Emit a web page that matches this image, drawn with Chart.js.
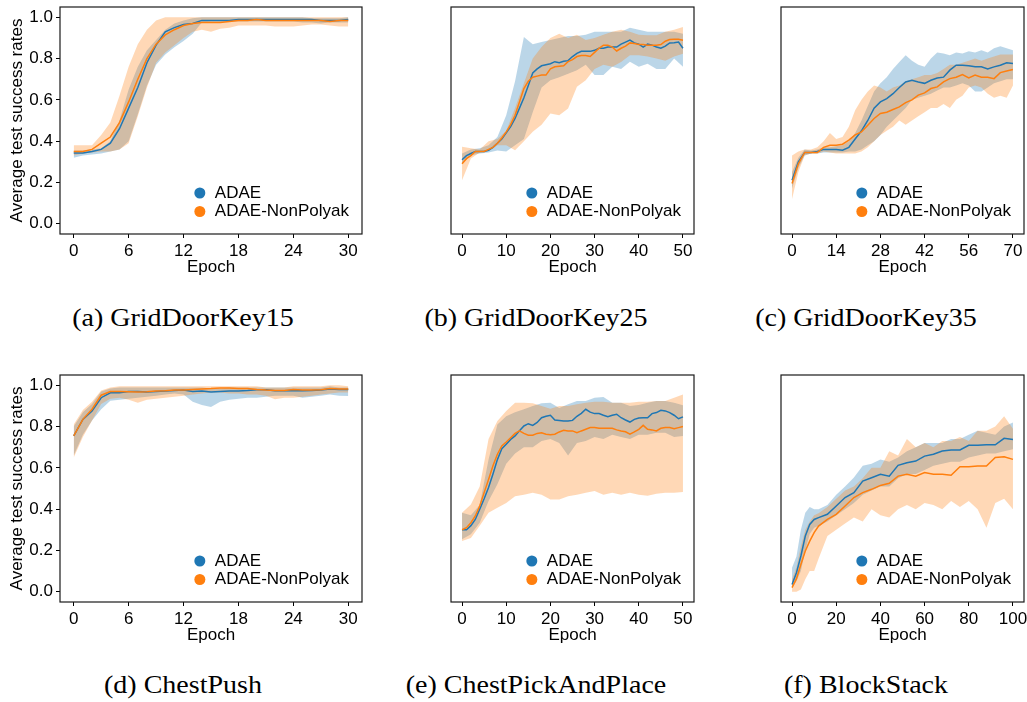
<!DOCTYPE html>
<html>
<head>
<meta charset="utf-8">
<script src="https://cdn.jsdelivr.net/npm/chart.js@4.4.1/dist/chart.umd.min.js"></script>
<style>
  html, body { margin: 0; padding: 0; background: #fff; }
  body { position: relative; width: 1027px; height: 702px; overflow: hidden; }
  canvas { position: absolute; }
  .caption {
    position: absolute;
    font-family: 'Liberation Serif', serif;
    font-size: 25px;
    line-height: 25px;
    color: #000;
    white-space: nowrap;
    transform: translateX(-50%) scaleX(1.12);
  }
</style>
</head>
<body>
<script>
// ---- axis ticks -------------------------------------------------------
const yTicks = [0, 0.2, 0.4, 0.6, 0.8, 1.0]
const ticks30 = [0, 6, 12, 18, 24, 30]
const ticks50 = [0, 10, 20, 30, 40, 50]
const ticks70 = [0, 14, 28, 42, 56, 70]
const ticks100 = [0, 20, 40, 60, 80, 100]

const legendNames = ['ADAE', 'ADAE-NonPolyak']

// ---- epochs -----------------------------------------------------------
const epochs30 = [0,1,2,3,4,5,6,7,8,9,10,11,12,13,14,15,16,17,18,19,20,21,22,23,24,25,26,27,28,29,30]
const epochs50 = [0,1,2,3,4,5,6,7,8,9,10,11,12,13,14,15,16,17,18,19,20,21,22,23,24,25,26,27,28,29,30,31,32,33,34,35,36,37,38,39,40,41,42,43,44,45,46,47,48,49,50]
const evens50 = [0,2,4,6,8,10,12,14,16,18,20,22,24,26,28,30,32,34,36,38,40,42,44,46,48,50]
const evens70 = [0,2,4,6,8,10,12,14,16,18,20,22,24,26,28,30,32,34,36,38,40,42,44,46,48,50,52,54,56,58,60,62,64,66,68,70]
const epochsF = [0,2,4,6,8,10,12,16,20,24,28,32,36,40,44,48,52,56,60,64,68,72,76,80,84,88,92,96,100]

// ---- (a) GridDoorKey15 ------------------------------------------------
const aAdae     = [0.343,0.343,0.35,0.36,0.39,0.46,0.56,0.66,0.78,0.865,0.93,0.95,0.965,0.97,0.985,0.985,0.985,0.985,0.99,0.99,0.99,0.99,0.99,0.99,0.99,0.99,0.99,0.985,0.985,0.985,0.99]
const aAdaeLow  = [0.32,0.33,0.335,0.34,0.35,0.36,0.40,0.53,0.67,0.77,0.82,0.855,0.885,0.92,0.975,0.98,0.98,0.98,0.98,0.98,0.98,0.98,0.98,0.98,0.98,0.975,0.975,0.97,0.975,0.975,0.975]
const aAdaeHigh = [0.355,0.355,0.36,0.365,0.40,0.50,0.65,0.76,0.84,0.89,0.94,0.97,0.985,0.995,1.0,1.0,1.0,1.0,1.0,1.0,1.0,1.0,1.0,1.0,1.0,1.0,0.995,0.995,0.995,0.995,1.0]
const aNon      = [0.35,0.35,0.36,0.39,0.42,0.49,0.59,0.70,0.80,0.87,0.915,0.94,0.96,0.97,0.975,0.975,0.975,0.98,0.985,0.985,0.99,0.985,0.985,0.985,0.985,0.985,0.985,0.985,0.98,0.985,0.985]
const aNonLow   = [0.33,0.34,0.345,0.35,0.35,0.36,0.39,0.52,0.66,0.78,0.83,0.865,0.90,0.93,0.94,0.93,0.945,0.95,0.96,0.96,0.96,0.96,0.955,0.955,0.955,0.96,0.965,0.965,0.96,0.955,0.955]
const aNonHigh  = [0.38,0.38,0.38,0.43,0.49,0.62,0.76,0.87,0.94,0.985,1.0,1.0,1.0,1.0,1.0,1.0,1.0,1.0,1.0,1.0,1.0,1.0,1.0,1.0,1.0,1.0,1.0,1.0,1.0,1.0,1.0]

// ---- (b) GridDoorKey25 ------------------------------------------------
const bAdae     = [0.31,0.33,0.34,0.35,0.35,0.35,0.355,0.37,0.39,0.41,0.44,0.47,0.51,0.56,0.61,0.67,0.73,0.75,0.765,0.77,0.775,0.785,0.78,0.787,0.79,0.81,0.825,0.835,0.835,0.835,0.84,0.85,0.85,0.856,0.856,0.856,0.87,0.88,0.89,0.876,0.87,0.856,0.87,0.865,0.856,0.85,0.86,0.876,0.877,0.88,0.85]
const bNon      = [0.29,0.315,0.33,0.35,0.35,0.35,0.36,0.37,0.39,0.415,0.445,0.48,0.525,0.59,0.655,0.69,0.71,0.715,0.72,0.72,0.75,0.76,0.763,0.765,0.785,0.795,0.81,0.815,0.815,0.81,0.83,0.85,0.865,0.865,0.856,0.837,0.85,0.86,0.876,0.873,0.868,0.868,0.865,0.865,0.865,0.868,0.884,0.892,0.894,0.894,0.889]
const bAdaeHigh = [0.34,0.36,0.365,0.38,0.42,0.526,0.69,0.905,0.87,0.88,0.89,0.90,0.91,0.91,0.916,0.93,0.93,0.93,0.93,0.95,0.94,0.93,0.93,0.93,0.93,0.92]
const bAdaeLow  = [0.29,0.33,0.34,0.345,0.355,0.35,0.38,0.41,0.54,0.66,0.695,0.71,0.727,0.744,0.77,0.72,0.72,0.76,0.75,0.785,0.76,0.775,0.75,0.75,0.8,0.76]
const bNonHigh  = [0.373,0.365,0.36,0.40,0.41,0.45,0.56,0.68,0.80,0.856,0.90,0.92,0.90,0.916,0.89,0.90,0.916,0.93,0.94,0.93,0.916,0.913,0.913,0.93,0.94,0.953]
const bNonLow   = [0.21,0.316,0.345,0.356,0.38,0.38,0.356,0.40,0.445,0.48,0.534,0.526,0.558,0.663,0.695,0.75,0.77,0.76,0.784,0.816,0.816,0.81,0.8,0.79,0.81,0.824]

// ---- (c) GridDoorKey35 ------------------------------------------------
const cAdae     = [0.21,0.30,0.345,0.345,0.35,0.36,0.36,0.36,0.356,0.37,0.41,0.45,0.50,0.56,0.59,0.606,0.63,0.66,0.687,0.695,0.687,0.68,0.695,0.706,0.71,0.744,0.768,0.768,0.765,0.76,0.76,0.75,0.76,0.768,0.78,0.776]
const cNon      = [0.195,0.29,0.345,0.345,0.345,0.37,0.38,0.38,0.385,0.405,0.43,0.445,0.477,0.51,0.534,0.54,0.553,0.566,0.587,0.6,0.623,0.634,0.655,0.663,0.687,0.703,0.71,0.723,0.706,0.72,0.71,0.71,0.703,0.732,0.74,0.747]
const cAdaeHigh = [0.25,0.32,0.36,0.355,0.36,0.37,0.37,0.375,0.38,0.40,0.44,0.50,0.57,0.64,0.68,0.71,0.75,0.784,0.816,0.79,0.77,0.76,0.80,0.83,0.825,0.816,0.83,0.825,0.835,0.83,0.84,0.83,0.85,0.86,0.85,0.84]
const cAdaeLow  = [0.17,0.27,0.33,0.34,0.34,0.345,0.345,0.345,0.345,0.35,0.35,0.36,0.38,0.40,0.43,0.47,0.50,0.53,0.56,0.60,0.61,0.62,0.63,0.645,0.66,0.66,0.67,0.68,0.67,0.64,0.64,0.66,0.68,0.69,0.70,0.70]
const cNonHigh  = [0.33,0.35,0.36,0.36,0.37,0.40,0.44,0.41,0.42,0.47,0.55,0.60,0.64,0.67,0.66,0.64,0.66,0.67,0.69,0.70,0.71,0.72,0.72,0.73,0.75,0.77,0.77,0.78,0.79,0.80,0.79,0.80,0.81,0.82,0.82,0.82]
const cNonLow   = [0.12,0.25,0.33,0.34,0.34,0.35,0.345,0.34,0.34,0.34,0.34,0.35,0.37,0.40,0.43,0.45,0.47,0.50,0.48,0.50,0.52,0.54,0.56,0.56,0.58,0.56,0.60,0.62,0.66,0.67,0.66,0.63,0.61,0.62,0.61,0.67]

// ---- (d) ChestPush ----------------------------------------------------
const dAdae     = [0.755,0.835,0.876,0.94,0.964,0.964,0.97,0.97,0.968,0.97,0.972,0.975,0.977,0.97,0.972,0.968,0.97,0.972,0.972,0.975,0.979,0.978,0.974,0.974,0.975,0.974,0.975,0.977,0.982,0.98,0.98]
const dNon      = [0.755,0.835,0.884,0.952,0.97,0.97,0.969,0.968,0.969,0.972,0.974,0.977,0.977,0.98,0.982,0.984,0.987,0.987,0.985,0.984,0.98,0.977,0.975,0.975,0.98,0.977,0.977,0.979,0.984,0.982,0.982]
const dAdaeHigh = [0.80,0.87,0.91,0.97,0.985,0.99,0.99,0.99,0.99,0.99,0.99,0.99,0.99,0.99,0.99,0.985,0.985,0.99,0.99,0.99,0.99,0.99,0.99,0.99,0.99,0.99,0.99,0.99,0.995,0.99,0.99]
const dAdaeLow  = [0.66,0.76,0.83,0.884,0.925,0.93,0.935,0.94,0.945,0.95,0.955,0.96,0.955,0.92,0.905,0.895,0.92,0.93,0.935,0.94,0.94,0.945,0.95,0.95,0.95,0.94,0.945,0.95,0.955,0.95,0.948]
const dNonHigh  = [0.81,0.88,0.92,0.975,0.99,0.995,0.995,0.995,0.995,0.995,0.995,0.995,0.995,0.995,0.995,0.995,0.995,0.995,0.995,0.995,0.995,0.99,0.99,0.99,0.995,0.995,0.995,0.995,1.0,1.0,0.995]
const dNonLow   = [0.65,0.75,0.83,0.91,0.935,0.94,0.93,0.916,0.93,0.935,0.94,0.945,0.95,0.955,0.96,0.965,0.965,0.96,0.96,0.955,0.955,0.95,0.932,0.94,0.94,0.945,0.95,0.955,0.96,0.965,0.965]

// ---- (e) ChestPickAndPlace --------------------------------------------
const eAdae     = [0.30,0.30,0.32,0.35,0.40,0.45,0.505,0.57,0.64,0.693,0.714,0.738,0.755,0.78,0.803,0.814,0.806,0.82,0.843,0.85,0.855,0.832,0.83,0.827,0.827,0.83,0.85,0.864,0.884,0.87,0.863,0.863,0.855,0.848,0.855,0.86,0.843,0.832,0.822,0.835,0.842,0.843,0.843,0.863,0.868,0.879,0.876,0.868,0.855,0.838,0.847]
const eNon      = [0.30,0.31,0.334,0.367,0.415,0.48,0.544,0.61,0.666,0.706,0.725,0.746,0.767,0.779,0.767,0.758,0.758,0.767,0.77,0.763,0.76,0.763,0.774,0.782,0.779,0.779,0.77,0.779,0.787,0.795,0.795,0.792,0.792,0.792,0.792,0.784,0.779,0.775,0.763,0.774,0.787,0.806,0.787,0.784,0.779,0.792,0.795,0.795,0.79,0.795,0.8]
const eAdaeHigh = [0.383,0.37,0.42,0.64,0.81,0.85,0.87,0.884,0.90,0.913,0.916,0.89,0.908,0.924,0.924,0.94,0.943,0.916,0.916,0.90,0.905,0.916,0.924,0.924,0.916,0.903]
const eAdaeLow  = [0.254,0.278,0.334,0.44,0.52,0.62,0.67,0.70,0.70,0.73,0.74,0.72,0.66,0.72,0.73,0.75,0.74,0.76,0.75,0.74,0.76,0.76,0.77,0.77,0.75,0.754]
const eNonHigh  = [0.383,0.423,0.51,0.74,0.827,0.876,0.916,0.916,0.913,0.90,0.887,0.90,0.90,0.908,0.916,0.92,0.92,0.916,0.916,0.916,0.92,0.92,0.924,0.924,0.94,0.956]
const eNonLow   = [0.245,0.26,0.32,0.383,0.407,0.43,0.463,0.47,0.48,0.47,0.447,0.447,0.463,0.47,0.48,0.488,0.47,0.48,0.47,0.48,0.47,0.465,0.475,0.48,0.48,0.483]

// ---- (f) BlockStack ---------------------------------------------------
const fAdae     = [0.035,0.092,0.173,0.27,0.326,0.35,0.359,0.375,0.415,0.456,0.48,0.536,0.552,0.569,0.56,0.612,0.625,0.633,0.657,0.666,0.682,0.687,0.687,0.709,0.709,0.712,0.712,0.743,0.738]
const fNon      = [0.02,0.063,0.132,0.197,0.245,0.286,0.318,0.35,0.375,0.415,0.456,0.48,0.496,0.515,0.525,0.56,0.569,0.56,0.577,0.569,0.569,0.564,0.606,0.606,0.609,0.609,0.65,0.654,0.641]
const fAdaeHigh = [0.116,0.17,0.30,0.383,0.41,0.40,0.40,0.42,0.47,0.51,0.553,0.61,0.62,0.64,0.63,0.65,0.68,0.70,0.72,0.72,0.72,0.74,0.74,0.76,0.78,0.77,0.76,0.80,0.82]
const fAdaeLow  = [0.02,0.05,0.10,0.20,0.28,0.31,0.32,0.34,0.37,0.40,0.43,0.47,0.49,0.51,0.51,0.55,0.57,0.57,0.59,0.61,0.62,0.63,0.63,0.65,0.66,0.67,0.67,0.68,0.69]
const fNonHigh  = [0.06,0.12,0.22,0.30,0.34,0.37,0.38,0.41,0.45,0.49,0.51,0.55,0.60,0.60,0.68,0.66,0.74,0.70,0.72,0.70,0.73,0.73,0.75,0.73,0.78,0.78,0.80,0.85,0.79]
const fNonLow   = [0.0,0.0,0.01,0.06,0.10,0.10,0.16,0.27,0.30,0.33,0.36,0.34,0.40,0.37,0.36,0.40,0.42,0.40,0.43,0.42,0.40,0.44,0.41,0.44,0.40,0.31,0.43,0.45,0.40]

// ---- styling ----------------------------------------------------------
const BLUE = '#1f77b4'
const ORANGE = '#ff7f0e'
const BLUE_BAND = 'rgba(31,119,180,0.3)'
const ORANGE_BAND = 'rgba(255,127,14,0.3)'
const Y_AXIS_W = 60
const X_AXIS_H = 44
const PAD = 3

Chart.defaults.font.family = "'Liberation Sans', Arial, sans-serif"
Chart.defaults.font.size = 17
Chart.defaults.color = '#000'

// panel layout: plot box [left, top, right, bottom] in page pixels
const panels = [
  { caption: '(a) GridDoorKey15', box: [60, 7, 362, 234], yAxis: true, xMin: -1.5, xMax: 31.5, xTicks: ticks30, capX: 183, capY: 305,
    adae: [epochs30, aAdae, epochs30, aAdaeLow, aAdaeHigh], non: [epochs30, aNon, epochs30, aNonLow, aNonHigh] },
  { caption: '(b) GridDoorKey25', box: [391, 7, 694, 234], yAxis: false, xMin: -2.5, xMax: 52.5, xTicks: ticks50, capX: 536, capY: 305,
    adae: [epochs50, bAdae, evens50, bAdaeLow, bAdaeHigh], non: [epochs50, bNon, evens50, bNonLow, bNonHigh] },
  { caption: '(c) GridDoorKey35', box: [721, 7, 1024, 234], yAxis: false, xMin: -3.5, xMax: 73.5, xTicks: ticks70, capX: 866, capY: 305,
    adae: [evens70, cAdae, evens70, cAdaeLow, cAdaeHigh], non: [evens70, cNon, evens70, cNonLow, cNonHigh] },
  { caption: '(d) ChestPush', box: [60, 375, 362, 602], yAxis: true, xMin: -1.5, xMax: 31.5, xTicks: ticks30, capX: 183, capY: 672,
    adae: [epochs30, dAdae, epochs30, dAdaeLow, dAdaeHigh], non: [epochs30, dNon, epochs30, dNonLow, dNonHigh] },
  { caption: '(e) ChestPickAndPlace', box: [391, 375, 694, 602], yAxis: false, xMin: -2.5, xMax: 52.5, xTicks: ticks50, capX: 536, capY: 672,
    adae: [epochs50, eAdae, evens50, eAdaeLow, eAdaeHigh], non: [epochs50, eNon, evens50, eNonLow, eNonHigh] },
  { caption: '(f) BlockStack', box: [721, 375, 1024, 602], yAxis: false, xMin: -5, xMax: 105, xTicks: ticks100, capX: 866, capY: 672,
    adae: [epochsF, fAdae, epochsF, fAdaeLow, fAdaeHigh], non: [epochsF, fNon, epochsF, fNonLow, fNonHigh] },
]

const pts = (xs, ys) => xs.map((x, i) => ({ x, y: ys[i] }))

// full black frame around the plot area
const frame = {
  id: 'frame',
  afterDraw(chart) {
    const { ctx, chartArea: { left, top, right, bottom } } = chart
    ctx.save()
    ctx.strokeStyle = '#1a1a1a'
    ctx.lineWidth = 1.2
    ctx.strokeRect(left, top, right - left, bottom - top)
    ctx.restore()
  }
}

// legend sitting in the lower right corner of the plot area
const insetLegend = {
  id: 'insetLegend',
  afterDraw(chart) {
    const { ctx, chartArea } = chart
    ctx.save()
    ctx.font = "17px 'Liberation Sans', Arial, sans-serif"
    const textW = Math.max(...legendNames.map(n => ctx.measureText(n).width))
    const textX = chartArea.right - 13 - textW
    const rows = [chartArea.bottom - 41, chartArea.bottom - 22.5]
    const colors = [BLUE, ORANGE]
    legendNames.forEach((name, i) => {
      ctx.fillStyle = colors[i]
      ctx.beginPath()
      ctx.arc(textX - 15, rows[i], 5.5, 0, Math.PI * 2)
      ctx.fill()
      ctx.fillStyle = '#000'
      ctx.textAlign = 'left'
      ctx.textBaseline = 'middle'
      ctx.fillText(name, textX, rows[i])
    })
    ctx.restore()
  }
}

function lineSet(data, color) {
  return { data, borderColor: color, borderWidth: 1.5, pointRadius: 0, fill: false, tension: 0 }
}
function bandSet(data, color, fill) {
  return { data, borderColor: 'rgba(0,0,0,0)', borderWidth: 0, pointRadius: 0, backgroundColor: color, fill, tension: 0 }
}

// keep the axes from reserving extra room for edge tick labels
function fixSize(prop, size) {
  return s => {
    s[prop] = size
    s.paddingTop = 0
    s.paddingBottom = 0
    s.paddingLeft = 0
    s.paddingRight = 0
  }
}

panels.forEach(p => {
  const [l, t, r, b] = p.box
  const leftW = p.yAxis ? Y_AXIS_W : PAD
  const canvas = document.createElement('canvas')
  canvas.width = leftW + (r - l) + PAD
  canvas.height = PAD + (b - t) + X_AXIS_H
  canvas.style.left = (l - leftW) + 'px'
  canvas.style.top = (t - PAD) + 'px'
  canvas.style.width = canvas.width + 'px'
  canvas.style.height = canvas.height + 'px'
  document.body.appendChild(canvas)

  const [ax, am, abx, alo, ahi] = p.adae
  const [nx, nm, nbx, nlo, nhi] = p.non

  new Chart(canvas, {
    type: 'line',
    data: {
      // index order sets drawing order: later entries are painted first
      datasets: [
        lineSet(pts(nx, nm), ORANGE),
        lineSet(pts(ax, am), BLUE),
        bandSet(pts(nbx, nhi), ORANGE_BAND, '+1'),
        bandSet(pts(nbx, nlo), ORANGE_BAND, false),
        bandSet(pts(abx, ahi), BLUE_BAND, '+1'),
        bandSet(pts(abx, alo), BLUE_BAND, false),
      ]
    },
    options: {
      responsive: false,
      animation: false,
      events: [],
      layout: { padding: { top: PAD, right: PAD, bottom: 0, left: p.yAxis ? 0 : PAD } },
      plugins: {
        legend: { display: false },
        tooltip: { enabled: false },
        filler: { drawTime: 'beforeDatasetsDraw' },
      },
      scales: {
        x: {
          type: 'linear',
          min: p.xMin,
          max: p.xMax,
          afterBuildTicks: s => { s.ticks = p.xTicks.map(v => ({ value: v })) },
          afterFit: fixSize('height', X_AXIS_H),
          ticks: { padding: 3, callback: v => String(v) },
          grid: { drawOnChartArea: false, drawTicks: true, tickLength: 4, tickColor: '#000', tickWidth: 1 },
          border: { display: false },
          title: { display: true, text: 'Epoch', padding: 0 },
        },
        y: {
          display: p.yAxis,
          min: -0.05,
          max: 1.05,
          afterBuildTicks: s => { s.ticks = yTicks.map(v => ({ value: v })) },
          afterFit: fixSize('width', Y_AXIS_W),
          ticks: { padding: 3, callback: v => v.toFixed(1) },
          grid: { drawOnChartArea: false, drawTicks: true, tickLength: 4, tickColor: '#000', tickWidth: 1 },
          border: { display: false },
          title: { display: true, text: 'Average test success rates', padding: { top: 7, bottom: 0 } },
        }
      }
    },
    plugins: [frame, insetLegend]
  })

  const cap = document.createElement('div')
  cap.className = 'caption'
  cap.textContent = p.caption
  cap.style.left = p.capX + 'px'
  cap.style.top = p.capY + 'px'
  document.body.appendChild(cap)
})
</script>
</body>
</html>
